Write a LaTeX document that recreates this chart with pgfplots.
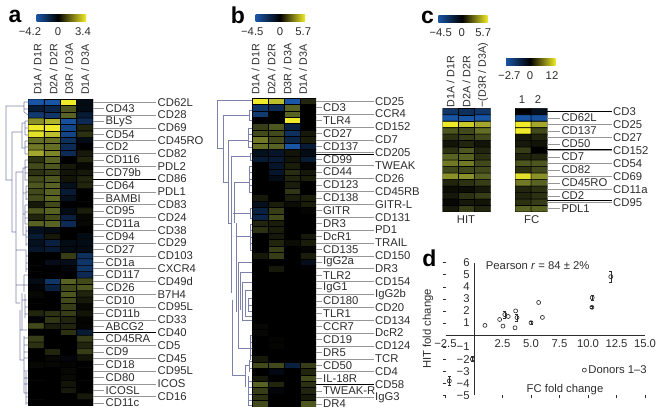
\documentclass[border=0pt]{standalone}
\usepackage{pgfplots}
\pgfplotsset{compat=1.18}
\usepackage{fontspec}
\setmainfont{Liberation Sans}
\definecolor{hb}{RGB}{25,85,165}
\definecolor{hy}{RGB}{240,235,40}
\definecolor{tx}{RGB}{45,45,45}
\definecolor{den}{RGB}{125,130,170}
\definecolor{lead}{RGB}{150,150,150}
\newcommand\fs{\fontsize{11.3}{13}\selectfont\color{tx}}
\newcommand\fc{\fontsize{10.7}{12}\selectfont\color{tx}}
\newcommand\fb{\fontsize{23}{24}\selectfont\bfseries\color{black}}
\pgfplotsset{
  hm/.style={hide axis,scale only axis,y dir=reverse,
    colormap={hm}{rgb255(0cm)=(25,90,175); rgb255(0.2cm)=(25,85,165); rgb255(1cm)=(0,0,0); rgb255(1.4cm)=(88,98,35); rgb255(1.75cm)=(175,180,45); rgb255(2cm)=(240,235,40)},
    point meta min=-1,point meta max=1},
  hp/.style={matrix plot,draw=black,line width=0.55pt,point meta=explicit},
}
\begin{document}
\begin{tikzpicture}
\path[use as bounding box] (0,0) rectangle (659pt,-414pt);
% ---------- panel a
\begin{axis}[hm,at={(28pt,-99pt)},anchor=north west,width=65pt,height=307pt,xmin=0.5,xmax=4.5,ymin=0.5,ymax=48.5]
\addplot[hp,mesh/cols=4] coordinates {
(1,1)[-.8](2,1)[-.8](3,1)[1](4,1)[-.1]
(1,2)[-.25](2,2)[-.35](3,2)[.35](4,2)[-.1]
(1,3)[-.55](2,3)[-.5](3,3)[.4](4,3)[-.25]
(1,4)[.6](2,4)[.75](3,4)[-.75](4,4)[-.4]
(1,5)[1](2,5)[1](3,5)[-.65](4,5)[.15]
(1,6)[.95](2,6)[.8](3,6)[-.65](4,6)[.2]
(1,7)[.45](2,7)[.45](3,7)[-.45](4,7)[-.1]
(1,8)[.5](2,8)[.45](3,8)[-.4](4,8)[0]
(1,9)[.7](2,9)[.55](3,9)[-.4](4,9)[.1]
(1,10)[.2](2,10)[.4](3,10)[0](4,10)[.15]
(1,11)[.3](2,11)[.35](3,11)[.1](4,11)[.03]
(1,12)[.2](2,12)[.25](3,12)[.08](4,12)[.1]
(1,13)[.3](2,13)[.35](3,13)[.08](4,13)[.15]
(1,14)[.35](2,14)[.4](3,14)[-.15](4,14)[.15]
(1,15)[.3](2,15)[.4](3,15)[-.25](4,15)[0]
(1,16)[.3](2,16)[.42](3,16)[-.15](4,16)[0]
(1,17)[.1](2,17)[.3](3,17)[0](4,17)[0]
(1,18)[.35](2,18)[.4](3,18)[-.1](4,18)[.12]
(1,19)[.15](2,19)[.3](3,19)[-.3](4,19)[.03]
(1,20)[.4](2,20)[.4](3,20)[-.4](4,20)[.03]
(1,21)[-.15](2,21)[-.1](3,21)[0](4,21)[0]
(1,22)[-.25](2,22)[.1](3,22)[0](4,22)[-.1]
(1,23)[-.15](2,23)[-.3](3,23)[-.1](4,23)[-.1]
(1,24)[-.2](2,24)[-.25](3,24)[-.1](4,24)[-.1]
(1,25)[0](2,25)[0](3,25)[.25](4,25)[-.45]
(1,26)[0](2,26)[-.12](3,26)[-.12](4,26)[-.5]
(1,27)[0](2,27)[0](3,27)[-.05](4,27)[-.5]
(1,28)[0](2,28)[0](3,28)[0](4,28)[-.4]
(1,29)[-.1](2,29)[-.5](3,29)[.4](4,29)[.3]
(1,30)[-.03](2,30)[-.3](3,30)[.3](4,30)[.35]
(1,31)[.03](2,31)[0](3,31)[.35](4,31)[.15]
(1,32)[0](2,32)[0](3,32)[.3](4,32)[.1]
(1,33)[0](2,33)[0](3,33)[.25](4,33)[.03]
(1,34)[.15](2,34)[.2](3,34)[.25](4,34)[.08]
(1,35)[-.03](2,35)[.22](3,35)[.15](4,35)[.02]
(1,36)[.3](2,36)[.12](3,36)[.15](4,36)[.02]
(1,37)[0](2,37)[0](3,37)[.2](4,37)[-.25]
(1,38)[.25](2,38)[0](3,38)[0](4,38)[.25]
(1,39)[.2](2,39)[0](3,39)[0](4,39)[.15]
(1,40)[0](2,40)[.15](3,40)[0](4,40)[.25]
(1,41)[0](2,41)[.03](3,41)[-.05](4,41)[.08]
(1,42)[.03](2,42)[.03](3,42)[.02](4,42)[0]
(1,43)[0](2,43)[0](3,43)[.03](4,43)[0]
(1,44)[0](2,44)[0](3,44)[.04](4,44)[0]
(1,45)[0](2,45)[0](3,45)[.08](4,45)[0]
(1,46)[0](2,46)[0](3,46)[.1](4,46)[0]
(1,47)[0](2,47)[0](3,47)[0](4,47)[.1]
(1,48)[0](2,48)[0](3,48)[0](4,48)[0]
};
\end{axis}
% ---------- panel b
\begin{axis}[hm,at={(252pt,-98pt)},anchor=north west,width=64pt,height=309pt,xmin=0.5,xmax=4.5,ymin=0.5,ymax=48.5]
\addplot[hp,mesh/cols=4] coordinates {
(1,1)[1](2,1)[.8](3,1)[-.85](4,1)[.15]
(1,2)[-.5](2,2)[-.4](3,2)[.4](4,2)[0]
(1,3)[-.55](2,3)[0](3,3)[.4](4,3)[0]
(1,4)[0](2,4)[0](3,4)[1](4,4)[0]
(1,5)[.25](2,5)[.35](3,5)[-.3](4,5)[0]
(1,6)[.3](2,6)[.3](3,6)[-.45](4,6)[.1]
(1,7)[.5](2,7)[.3](3,7)[-.35](4,7)[.12]
(1,8)[.45](2,8)[.4](3,8)[-.8](4,8)[-.25]
(1,9)[-.15](2,9)[-.2](3,9)[.08](4,9)[-.1]
(1,10)[-.25](2,10)[-.25](3,10)[.08](4,10)[-.25]
(1,11)[0](2,11)[-.2](3,11)[.12](4,11)[.02]
(1,12)[0](2,12)[-.2](3,12)[.18](4,12)[.1]
(1,13)[0](2,13)[-.1](3,13)[.15](4,13)[.12]
(1,14)[0](2,14)[0](3,14)[.12](4,14)[0]
(1,15)[0](2,15)[0](3,15)[.22](4,15)[0]
(1,16)[.1](2,16)[0](3,16)[.12](4,16)[.12]
(1,17)[-.15](2,17)[.12](3,17)[.05](4,17)[.12]
(1,18)[-.3](2,18)[.25](3,18)[0](4,18)[.02]
(1,19)[-.35](2,19)[.3](3,19)[0](4,19)[0]
(1,20)[.15](2,20)[.12](3,20)[0](4,20)[0]
(1,21)[.2](2,21)[.12](3,21)[0](4,21)[0]
(1,22)[0](2,22)[.1](3,22)[0](4,22)[.1]
(1,23)[0](2,23)[.15](3,23)[.05](4,23)[.12]
(1,24)[0](2,24)[.25](3,24)[0](4,24)[.02]
(1,25)[.1](2,25)[.25](3,25)[0](4,25)[.12]
(1,26)[0](2,26)[0](3,26)[0](4,26)[-.12]
(1,27)[0](2,27)[.1](3,27)[0](4,27)[0]
(1,28)[0](2,28)[0](3,28)[0](4,28)[0]
(1,29)[0](2,29)[0](3,29)[0](4,29)[0]
(1,30)[0](2,30)[0](3,30)[0](4,30)[0]
(1,31)[0](2,31)[0](3,31)[0](4,31)[0]
(1,32)[0](2,32)[0](3,32)[0](4,32)[0]
(1,33)[0](2,33)[0](3,33)[0](4,33)[0]
(1,34)[0](2,34)[0](3,34)[0](4,34)[0]
(1,35)[0](2,35)[0](3,35)[0](4,35)[0]
(1,36)[.03](2,36)[0](3,36)[0](4,36)[0]
(1,37)[.03](2,37)[0](3,37)[0](4,37)[0]
(1,38)[0](2,38)[.02](3,38)[0](4,38)[0]
(1,39)[0](2,39)[.02](3,39)[0](4,39)[0]
(1,40)[0](2,40)[0](3,40)[0](4,40)[0]
(1,41)[.1](2,41)[0](3,41)[0](4,41)[0]
(1,42)[.3](2,42)[.3](3,42)[-.3](4,42)[.25]
(1,43)[0](2,43)[-.08](3,43)[0](4,43)[.15]
(1,44)[.1](2,44)[0](3,44)[0](4,44)[.3]
(1,45)[.4](2,45)[.15](3,45)[0](4,45)[.2]
(1,46)[.25](2,46)[-.05](3,46)[0](4,46)[.15]
(1,47)[.2](2,47)[0](3,47)[0](4,47)[.1]
(1,48)[.3](2,48)[0](3,48)[0](4,48)[.35]
};
\end{axis}
% ---------- panel c HIT
\begin{axis}[hm,at={(442.7pt,-108.3pt)},anchor=north west,width=48pt,height=103.7pt,xmin=0.5,xmax=3.5,ymin=0.5,ymax=16.5]
\addplot[hp,mesh/cols=3] coordinates {
(1,1)[-.5](2,1)[-.45](3,1)[-.5]
(1,2)[-.8](2,2)[-.8](3,2)[-.8]
(1,3)[1](2,3)[.85](3,3)[.7]
(1,4)[.35](2,4)[.3](3,4)[.45]
(1,5)[.2](2,5)[.25](3,5)[.3]
(1,6)[.08](2,6)[.15](3,6)[.08]
(1,7)[.2](2,7)[.35](3,7)[.15]
(1,8)[.4](2,8)[.4](3,8)[.2]
(1,9)[.5](2,9)[.5](3,9)[.3]
(1,10)[.3](2,10)[.3](3,10)[.3]
(1,11)[.6](2,11)[.6](3,11)[.4]
(1,12)[.15](2,12)[.2](3,12)[.25]
(1,13)[.05](2,13)[.05](3,13)[.1]
(1,14)[.1](2,14)[.2](3,14)[.25]
(1,15)[.03](2,15)[.1](3,15)[.08]
(1,16)[.1](2,16)[.25](3,16)[.15]
};
\end{axis}
% ---------- panel c FC
\begin{axis}[hm,at={(515pt,-108.3pt)},anchor=north west,width=32.3pt,height=103.7pt,xmin=0.5,xmax=2.5,ymin=0.5,ymax=16.5]
\addplot[hp,mesh/cols=2] coordinates {
(1,1)[0](2,1)[-.15]
(1,2)[-.8](2,2)[-.75]
(1,3)[1](2,3)[.7]
(1,4)[1](2,4)[.3]
(1,5)[.1](2,5)[.15]
(1,6)[.1](2,6)[.08]
(1,7)[.25](2,7)[0]
(1,8)[.15](2,8)[.15]
(1,9)[.35](2,9)[.35]
(1,10)[.2](2,10)[.3]
(1,11)[.95](2,11)[.6]
(1,12)[.5](2,12)[.4]
(1,13)[.15](2,13)[.2]
(1,14)[.15](2,14)[.2]
(1,15)[.2](2,15)[.25]
(1,16)[.4](2,16)[.4]
};
\end{axis}
% ---------- dendrograms in picture pixels
\begin{axis}[hide axis,scale only axis,at={(0pt,-414pt)},anchor=south west,width=659pt,height=414pt,
  xmin=0,xmax=659,ymin=0,ymax=414,y dir=reverse,clip=false]
\addplot[den,line width=0.55pt,unbounded coords=jump] coordinates {
(24,106)(6,106)(6,180)(12,180) (nan,nan)
(24,102)(24,112) (nan,nan) (24,102)(28,102) (nan,nan) (24,109)(28,109) (nan,nan) (24,112)(28,115) (nan,nan)
(22,132)(12,132)(12,232)(16,232) (nan,nan)
(25,123)(22,123)(22,148)(25,148) (nan,nan)
(25,121)(25,135) (nan,nan) (25,141)(25,154) (nan,nan)
(25,121)(28,121) (nan,nan) (25,128)(28,128) (nan,nan) (25,135)(28,135) (nan,nan)
(25,141)(28,141) (nan,nan) (25,147)(28,147) (nan,nan) (25,154)(28,154) (nan,nan)
(23,172)(16,172)(16,303)(20,303) (nan,nan)
(26,168)(23,168)(23,235)(26,235) (nan,nan)
(25,160)(25,180)(28,180) (nan,nan) (25,160)(28,160) (nan,nan) (25,167)(28,167) (nan,nan) (25,173)(28,173) (nan,nan)
(26,186)(26,200) (nan,nan) (26,186)(28,186) (nan,nan) (26,192)(28,192) (nan,nan) (26,199)(28,199) (nan,nan)
(23,193)(26,193) (nan,nan)
(25,205)(25,224) (nan,nan) (23,214)(25,214) (nan,nan) (25,205)(28,205) (nan,nan) (25,212)(28,212) (nan,nan) (25,218)(28,218) (nan,nan) (25,224)(28,224) (nan,nan)
(26,226)(26,246) (nan,nan) (26,231)(28,231) (nan,nan) (26,237)(28,237) (nan,nan) (26,244)(28,244) (nan,nan)
(26,250)(26,272) (nan,nan) (16,250)(26,250) (nan,nan) (26,256)(28,256) (nan,nan) (26,263)(28,263) (nan,nan) (26,269)(28,269) (nan,nan)
(16,285)(28,285) (nan,nan) (24,275)(24,292) (nan,nan) (24,275)(28,275) (nan,nan)
(22,330)(20,330)(20,345) (nan,nan) (20,310)(20,360)(24,360) (nan,nan)
(22,293)(22,330)(27,330) (nan,nan) (22,300)(27,300) (nan,nan) (25,294)(25,318) (nan,nan) (25,307)(28,307) (nan,nan) (25,314)(28,314) (nan,nan)
(24,336)(24,393) (nan,nan) (24,338)(28,338) (nan,nan) (24,345)(28,345) (nan,nan) (24,352)(28,352) (nan,nan) (24,358)(28,358) (nan,nan) (24,371)(28,371) (nan,nan) (24,378)(28,378) (nan,nan) (24,384)(28,384) (nan,nan) (24,393)(28,393) (nan,nan)
(26,372)(26,405) (nan,nan) (26,397)(28,397) (nan,nan) (26,403)(28,403)
};
% panel b
\addplot[den,line width=0.55pt,unbounded coords=jump] coordinates {
(252,100)(217,100)(217,148)(223,148) (nan,nan)
(249,115)(223,115)(223,182)(228,182) (nan,nan)
(249,110)(249,120) (nan,nan) (249,110)(252,110) (nan,nan) (249,120)(252,120) (nan,nan)
(248,140)(228,140)(228,223)(232,223) (nan,nan)
(248,128)(248,147)(252,147) (nan,nan) (248,128)(252,128) (nan,nan) (248,134)(252,134) (nan,nan) (248,141)(252,141) (nan,nan)
(231,156)(250,156) (nan,nan) (231,156)(231,293) (nan,nan) (250,153)(250,160) (nan,nan) (250,153)(252,153) (nan,nan) (250,160)(252,160) (nan,nan)
(234,182)(249,182) (nan,nan) (234,182)(234,223) (nan,nan) (249,166)(249,192) (nan,nan) (249,166)(252,166) (nan,nan) (249,172)(252,172) (nan,nan) (249,179)(252,179) (nan,nan) (249,185)(252,185) (nan,nan) (249,192)(252,192) (nan,nan)
(233,213)(250,213) (nan,nan) (250,208)(250,218) (nan,nan) (250,208)(252,208) (nan,nan) (250,218)(252,218) (nan,nan)
(236,223)(236,312) (nan,nan) (236,236)(250,236) (nan,nan) (250,224)(250,250) (nan,nan) (250,224)(252,224) (nan,nan) (250,230)(252,230) (nan,nan) (250,237)(252,237) (nan,nan) (250,243)(252,243) (nan,nan) (250,250)(252,250) (nan,nan)
(238,262)(252,262) (nan,nan) (238,262)(238,348)(250,348) (nan,nan)
(250,335)(250,360) (nan,nan) (250,335)(252,335) (nan,nan) (250,342)(252,342) (nan,nan) (250,348)(252,348) (nan,nan) (250,355)(252,355) (nan,nan)
(240,272)(252,272) (nan,nan) (240,272)(240,310) (nan,nan)
(242,282)(252,282) (nan,nan) (242,282)(242,320)(252,320) (nan,nan)
(245,290)(252,290) (nan,nan) (245,290)(245,316)(252,316) (nan,nan)
(248,298)(248,311) (nan,nan) (248,298)(252,298) (nan,nan) (248,305)(252,305) (nan,nan) (248,311)(252,311) (nan,nan)
(232,300)(232,375)(245,375) (nan,nan)
(245,365)(250,365) (nan,nan) (245,365)(245,387) (nan,nan) (249,360)(249,372) (nan,nan) (249,361)(252,361) (nan,nan) (249,368)(252,368) (nan,nan)
(248,376)(248,405) (nan,nan) (248,381)(252,381) (nan,nan) (248,387)(252,387) (nan,nan) (248,394)(252,394) (nan,nan) (248,400)(252,400) (nan,nan) (248,405)(252,405)
};
\end{axis}
% ---------- panel d
\begin{axis}[scale only axis,at={(445.5pt,-395.3pt)},anchor=south west,width=199.5pt,height=132.6pt,
  axis lines=middle,axis line style={color=tx,line width=0.6pt,-},
  xmin=-2.5,xmax=15,ymin=-5,ymax=6,
  xtick={-2.5,2.5,5,7.5,10,12.5,15},
  xticklabels={−2.5,2.5,5.0,7.5,10.0,12.5,15.0},
  ytick={-5,-4,-3,-2,-1,1,2,3,4,5,6},
  yticklabels={−5,−4,−3,−2,−1,1,2,3,4,5,6},
  tick align=outside,xtick pos=left,ytick pos=left,
  tick style={color=tx,line width=0.6pt},major tick length=3pt,
  every tick label/.append style={font=\fs,inner sep=1.2pt},
  clip=false,
  legend style={draw=none,fill=none,at={(0.685,0.19)},anchor=west,font=\fs,inner sep=0pt,legend cell align=left},
]
\addplot[only marks,mark=o,mark size=2pt,color=tx,mark options={line width=0.65pt}]
  table[x index=0,y index=1] {
0.96 0.8
2.25 1.29
2.54 0.74
3.0 1.54
3.6 0.6
3.65 2.0
5.67 2.7
6.0 1.46
};
\legend{Donors 1–3}
\addplot[only marks,mark=o,mark size=2pt,color=tx,mark options={line width=0.65pt},forget plot,
  error bars/.cd,y dir=both,y explicit,error mark options={rotate=90,mark size=1.5pt,line width=0.5pt},error bar style={line width=0.5pt}]
  table[x index=0,y index=1,y error index=2] {
2.7 1.7 0.3
3.77 1.45 0.3
5.0 1.02 0.12
10.34 2.3 0.12
10.37 3.1 0.2
12.0 4.84 0.45
-0.15 -2.0 0.2
-2.16 -3.8 0.35
};
\end{axis}
% ---------- texts, leaders, colour bars in pixel coordinates
\begin{scope}[x=1pt,y=-1pt]
\newcommand\cbar[5]{%
 \shade[left color=hb,right color=black] (#1,#4) rectangle (#2,#5);
 \shade[left color=black,right color=hy] (#2,#4) rectangle (#3,#5);}
\tikzset{lab/.style={font=\fs,inner sep=0pt,anchor=west},ctr/.style={font=\fs,inner sep=0pt},
 rot/.style={font=\fc,inner sep=0pt,rotate=90,anchor=west}}
% panel letters
\node[font=\fb,inner sep=0] at (15,16) {a};
\node[font=\fb,inner sep=0] at (238,15) {b};
\node[font=\fb,inner sep=0] at (427.5,17) {c};
\node[font=\fb,inner sep=0] at (429.5,258) {d};
% colour bars
\cbar{36.7}{58}{86}{14.3}{22}
\node[ctr] at (30,32) {−4.2}; \node[ctr] at (58,32) {0}; \node[ctr] at (83,32) {3.4};
\cbar{255.7}{280}{305}{14.3}{22}
\node[ctr] at (252.3,32) {−4.5}; \node[ctr] at (280,32) {0}; \node[ctr] at (303.3,32) {5.7};
\cbar{438.3}{462}{487.7}{15.7}{22.7}
\node[ctr] at (440.7,33) {−4.5}; \node[ctr] at (461.7,33) {0}; \node[ctr] at (483.3,33) {5.7};
\cbar{506}{530}{555.7}{58.7}{65.7}
\node[ctr] at (509.3,75.3) {−2.7}; \node[ctr] at (530,75.3) {0}; \node[ctr] at (552,75.3) {12};
% column heads
\foreach \x/\t in {37.5/{D1A / D1R},53.5/{D2A / D2R},69/{D3R / D3A},85/{D1A / D3A}} \node[rot] at (\x,95) {\t};
\foreach \x/\t in {255.5/{D1A / D1R},271.5/{D2A / D2R},287.5/{D3R / D3A},303/{D1A / D3A}} \node[rot] at (\x,95) {\t};
\foreach \x/\t in {450.5/{D1A / D1R},466.5/{D2A / D2R},483/{−(D3R / D3A)}} \node[rot] at (\x,107.5) {\t};
\node[ctr] at (522,100) {1}; \node[ctr] at (538,100) {2};
\node[ctr] at (466,220) {HIT}; \node[ctr] at (531.7,220) {FC};
% panel a labels
\foreach \t [count=\i] in {CD62L,CD28,CD69,CD45RO,CD82,PDL2,CD86,PDL1,CD83,CD24,CD38,CD29,CD103,CXCR4,CD49d,B7H4,CD95L,CD33,CD40,CD5,CD45,CD95L,ICOS,CD16}{
 \pgfmathsetmacro\y{99+6.4*(2*\i-1.5)}
 \draw[lead,line width=0.5pt] (93,\y)--(156,\y); \node[lab] at (157.5,\y) {\t};}
\foreach \t [count=\i] in {CD43,BLyS,CD54,CD2,CD116,CD79b,CD64,BAMBI,CD95,CD11a,CD94,CD27,CD1a,CD117,CD26,CD10,CD11b,ABCG2,CD45RA,CD9,CD18,CD80,ICOSL,CD11c}{
 \pgfmathsetmacro\y{99+6.4*(2*\i-0.5)}
 \draw[lead,line width=0.5pt] (93,\y)--(104,\y); \node[lab] at (105.5,\y) {\t};}
\draw[black,line width=0.5pt] (93,179)--(156,179) (93,332.6)--(156,332.6);
% panel b labels
\foreach \t [count=\i] in {CD25,CCR4,CD152,CD7,CD205,TWEAK,CD26,CD45RB,GITR-L,CD131,PD1,TRAIL,CD150,DR3,CD154,IgG2b,CD20,CD134,DcR2,CD124,TCR,CD4,CD58,IgG3}{
 \pgfmathsetmacro\y{98+6.44*(2*\i-1.5)}
 \draw[lead,line width=0.5pt] (316,\y)--(374,\y); \node[lab] at (375,\y) {\t};}
\foreach \t [count=\i] in {CD3,TLR4,CD27,CD137,CD99,CD44,CD123,CD138,GITR,DR3,DcR1,CD135,IgG2a,TLR2,IgG1,CD180,TLR1,CCR7,CD19,DR5,CD50,IL-18R,TWEAK-R,DR4}{
 \pgfmathsetmacro\y{98+6.44*(2*\i-0.5)}
 \draw[lead,line width=0.5pt] (316,\y)--(322,\y); \node[lab] at (323,\y) {\t};}
\draw[black,line width=0.5pt] (316,153.8)--(374,153.8) (316,384)--(374,384);
% panel c labels
\foreach \t [count=\i] in {CD3,CD25,CD27,CD152,CD54,CD69,CD11a,CD95}{
 \pgfmathsetmacro\y{108.3+6.48*(2*\i-1.5)}
 \draw[lead,line width=0.5pt] (547.3,\y)--(611.5,\y); \node[lab] at (613,\y) {\t};}
\foreach \t [count=\i] in {CD62L,CD137,CD50,CD7,CD82,CD45RO,CD2,PDL1}{
 \pgfmathsetmacro\y{108.3+6.48*(2*\i-0.5)}
 \draw[lead,line width=0.5pt] (547.3,\y)--(560,\y); \node[lab] at (561.3,\y) {\t};}
\draw[black,line width=0.5pt] (547.3,111.5)--(611.5,111.5) (547.3,149)--(611.5,149) (547.3,200.5)--(611.5,200.5);
% panel d texts
\node[ctr,anchor=west] at (485.7,265.7) {Pearson \textit{r} = 84 ± 2\%};
\node[ctr] at (565,390) {FC fold change};
\node[ctr,rotate=90] at (428,329) {HIT fold change};
\end{scope}
\end{tikzpicture}
\end{document}
